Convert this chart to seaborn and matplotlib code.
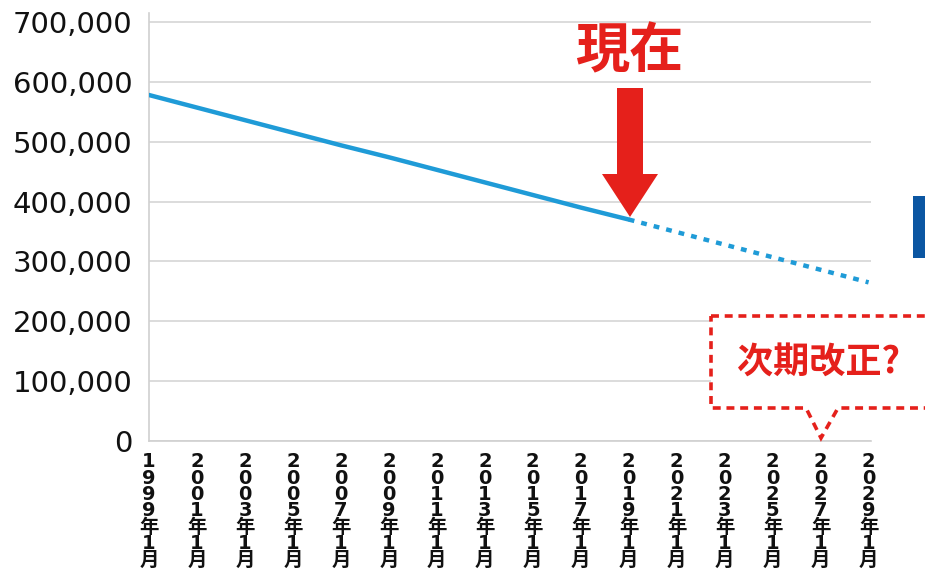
import numpy as np
import pandas as pd
import matplotlib
matplotlib.use("Agg")
import matplotlib.pyplot as plt
import seaborn as sns
from matplotlib.patches import Polygon, Rectangle

# ---- data ----
tick_years = [1999, 2001, 2003, 2005, 2007, 2009, 2011, 2013, 2015, 2017, 2019,
              2021, 2023, 2025, 2027, 2029]
tick_labels = [f"{y}年1月" for y in tick_years]
actual_years = [1999, 2001, 2003, 2005, 2007, 2009, 2011, 2013, 2015, 2017, 2019]
actual_values = [578000, 557000, 536000, 515000, 494000, 474000, 453000, 432000,
                 411000, 390000, 370000]
forecast_years = [2019, 2021, 2023, 2025, 2027, 2029]
forecast_values = [370000, 349000, 328000, 307000, 286000, 265000]
y_ticks = [0, 100000, 200000, 300000, 400000, 500000, 600000, 700000]

LINE = "#1f9bd7"
RED = "#e5201b"
W, H = 925, 574

sns.set_theme(style="white")
plt.rcParams['font.family'] = ['DejaVu Sans', 'Noto Sans CJK JP']

fig = plt.figure(figsize=(W / 100, H / 100), dpi=100)
ax = fig.add_axes([149 / W, 1 - 441 / H, (871 - 149) / W, (441 - 13) / H])

df_a = pd.DataFrame({"year": actual_years, "value": actual_values})
df_f = pd.DataFrame({"year": forecast_years, "value": forecast_values})
sns.lineplot(data=df_a, x="year", y="value", ax=ax, color=LINE, linewidth=3.2,
             zorder=3)
sns.lineplot(data=df_f, x="year", y="value", ax=ax, color=LINE, linewidth=3.2,
             linestyle=(0, (1.3, 1.6)), dash_capstyle="butt", zorder=3)

ax.set_xlim(1999, 2029.1)
ax.set_ylim(0, 715000)
ax.set_yticks(y_ticks)
ax.set_yticklabels([f"{v:,}" for v in y_ticks], fontsize=21, color="#111111")
ax.set_xticks(tick_years)
ax.set_xticklabels(["\n".join(list(s)) for s in tick_labels], fontsize=14,
                   color="#111111", fontweight="bold", linespacing=0.83, va="top")
ax.tick_params(axis="y", length=0, pad=12)
ax.tick_params(axis="x", length=0, pad=8)
ax.set_xlabel("")
ax.set_ylabel("")
ax.grid(axis="y", color="#d5d5d5", linewidth=1.2)
ax.grid(axis="x", visible=False)
for s in ["top", "right"]:
    ax.spines[s].set_visible(False)
for s in ["left", "bottom"]:
    ax.spines[s].set_color("#d0d0d0")
    ax.spines[s].set_linewidth(1.2)
ax.set_axisbelow(True)


def fx(x):
    return x / W


def fy(y):
    return 1 - y / H


# 現在 label and arrow
fig.text(fx(629), fy(52), "現在", color=RED, fontsize=39, fontweight="bold",
         ha="center", va="center", family=['Noto Sans CJK JP'])
arrow_pts = [(617, 88), (643, 88), (643, 174), (658, 174), (630, 217),
             (602, 174), (617, 174)]
fig.patches.append(Polygon([(fx(x), fy(y)) for x, y in arrow_pts], closed=True,
                           transform=fig.transFigure, facecolor=RED,
                           edgecolor="none", zorder=5))

# blue bar at right edge
fig.patches.append(Rectangle((fx(913), fy(258)), fx(20), (258 - 196) / H,
                             transform=fig.transFigure, facecolor="#0b56a2",
                             edgecolor="none", zorder=5))

# callout box (white fill with dashed red border)
box_pts = [(711, 316), (940, 316), (940, 408), (838, 408), (821, 438),
           (806, 408), (711, 408)]
fig.patches.append(Polygon([(fx(x), fy(y)) for x, y in box_pts], closed=True,
                           transform=fig.transFigure, facecolor="white",
                           edgecolor=RED, linewidth=2.6,
                           linestyle=(0, (2.2, 1.6)), zorder=6))
fig.text(fx(818), fy(362), "次期改正?", color=RED, fontsize=26,
         fontweight="bold", ha="center", va="center", zorder=7,
         family=['Noto Sans CJK JP'])

fig.savefig("out.png", dpi=100)
